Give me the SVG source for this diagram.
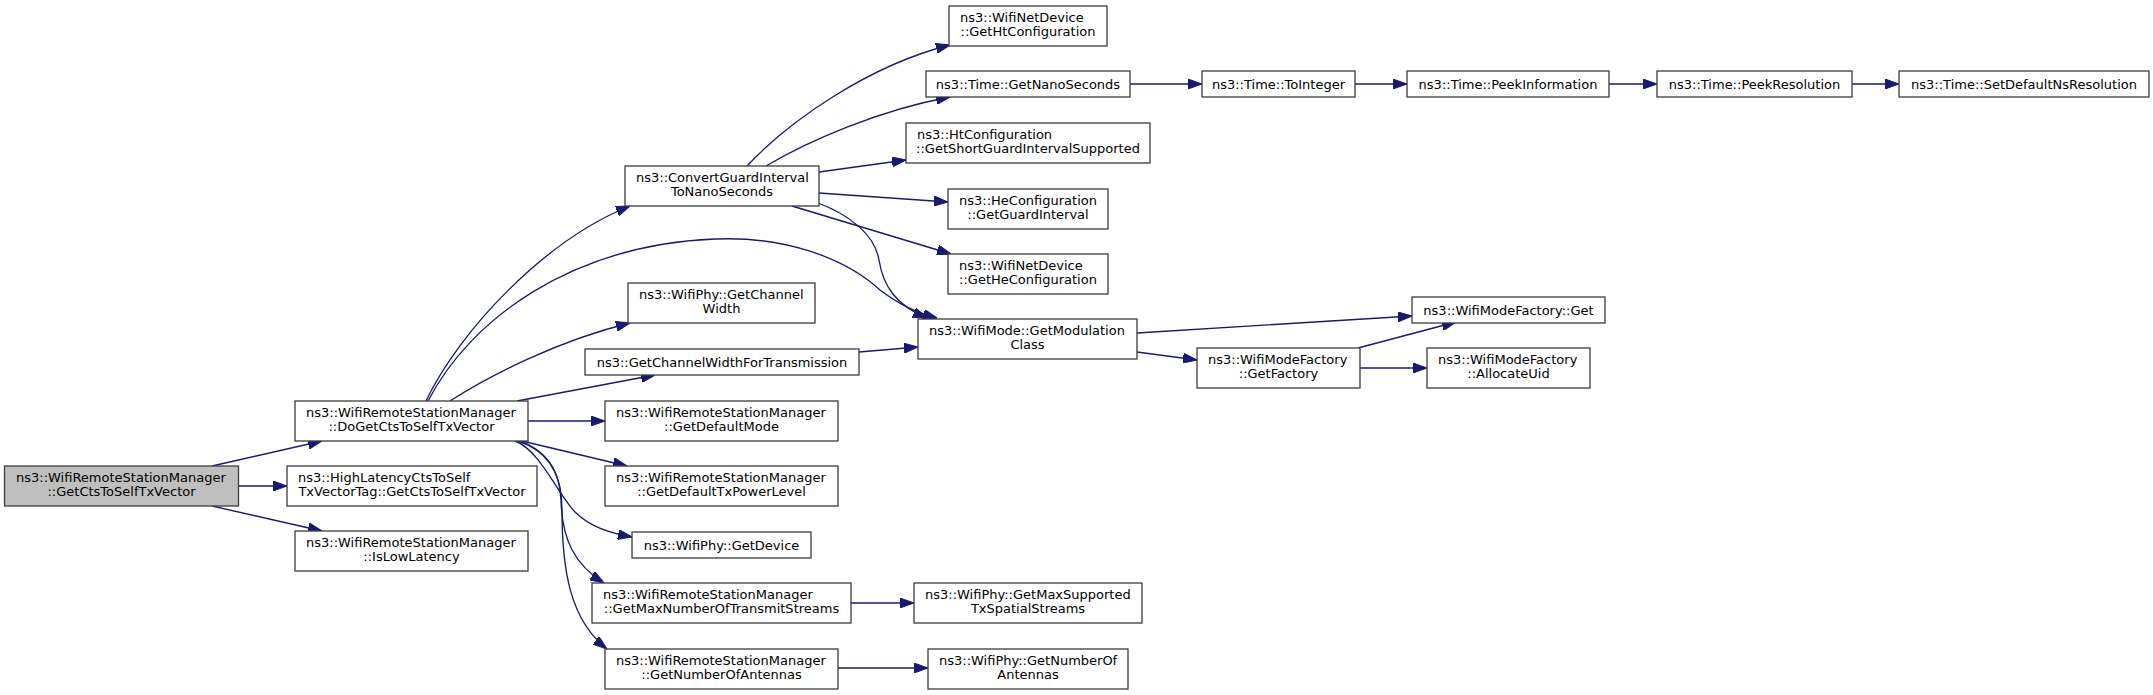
<svg xmlns="http://www.w3.org/2000/svg" width="2153" height="695" viewBox="0 0 2153 695">
<style>
.n rect{fill:#ffffff;stroke:#404040;stroke-width:1.33}
.n.root rect{fill:#bfbfbf}
.n text{font-family:"DejaVu Sans",sans-serif;font-size:13px;fill:#000}
.s{text-anchor:start}
.m{text-anchor:middle}
#edges path{fill:none;stroke:#191970;stroke-width:1.33;marker-end:url(#ah)}
</style>
<defs>
<marker id="ah" markerUnits="userSpaceOnUse" markerWidth="14" markerHeight="10" viewBox="0 0 14 10" refX="14" refY="5" orient="auto">
<path d="M0,0 L14,5 L0,10 z" fill="#191970" stroke="#191970" stroke-width="1"/>
</marker>
</defs>
<rect width="2153" height="695" fill="#ffffff"/>
<g id="edges">
<path d="M212,466 L322,441"/>
<path d="M239,486 L287,486"/>
<path d="M212,506 L322,531"/>
<path d="M426,401 C460,330 545,240 630,206"/>
<path d="M428,401 C470,320 570,245 715,239 C785,236 845,258 880,290 C900,305 915,312 937,318"/>
<path d="M450,401 C490,375 560,340 630,323"/>
<path d="M517,401 L655,375"/>
<path d="M528,421 L605,421"/>
<path d="M522,441 L627,466"/>
<path d="M515,441 C540,450 558,495 575,512 C590,527 610,533 632,537"/>
<path d="M518,441 C545,450 560,470 561,500 C562,540 575,565 604,583"/>
<path d="M520,441 C550,452 562,475 562,510 C562,570 570,620 607,649"/>
<path d="M747,166 C790,120 870,65 950,45"/>
<path d="M766,166 C810,140 880,110 950,97"/>
<path d="M819,172 L906,160"/>
<path d="M819,193 L948,202"/>
<path d="M792,206 L951,254"/>
<path d="M818,203 C850,215 875,235 879,260 C883,285 895,305 927,318"/>
<path d="M859,352 L918,347"/>
<path d="M1130,84 L1202,84"/>
<path d="M1355,84 L1407,84"/>
<path d="M1609,84 L1657,84"/>
<path d="M1852,84 L1899,84"/>
<path d="M1137,333 L1412,316"/>
<path d="M1137,352 L1197,360"/>
<path d="M1358,348 L1456,322"/>
<path d="M1360,368 L1427,368"/>
<path d="M851,603 L914,603"/>
<path d="M838,668 L928,668"/>
</g>
<g id="n_root" class="n root"><rect x="4.5" y="466" width="234" height="40"/><text class="s" x="16" y="482">ns3::WifiRemoteStationManager</text><text class="m" x="121.5" y="496">::GetCtsToSelfTxVector</text></g>
<g id="n_dogetcts" class="n"><rect x="295" y="401" width="233" height="40"/><text class="s" x="306" y="417">ns3::WifiRemoteStationManager</text><text class="m" x="411.5" y="431">::DoGetCtsToSelfTxVector</text></g>
<g id="n_highlatency" class="n"><rect x="287" y="466" width="250" height="40"/><text class="s" x="298" y="482">ns3::HighLatencyCtsToSelf</text><text class="m" x="412" y="496">TxVectorTag::GetCtsToSelfTxVector</text></g>
<g id="n_islowlatency" class="n"><rect x="295" y="531" width="233" height="40"/><text class="s" x="306" y="547">ns3::WifiRemoteStationManager</text><text class="m" x="411.5" y="561">::IsLowLatency</text></g>
<g id="n_convertgi" class="n"><rect x="625" y="166" width="194" height="40"/><text class="s" x="636" y="182">ns3::ConvertGuardInterval</text><text class="m" x="722" y="196">ToNanoSeconds</text></g>
<g id="n_getchannelwidth" class="n"><rect x="628" y="283" width="187" height="40"/><text class="s" x="639" y="299">ns3::WifiPhy::GetChannel</text><text class="m" x="721.5" y="313">Width</text></g>
<g id="n_cwfortx" class="n"><rect x="585" y="349" width="274" height="26"/><text class="m" x="722" y="366.5">ns3::GetChannelWidthForTransmission</text></g>
<g id="n_defaultmode" class="n"><rect x="605" y="401" width="233" height="40"/><text class="s" x="616" y="417">ns3::WifiRemoteStationManager</text><text class="m" x="721.5" y="431">::GetDefaultMode</text></g>
<g id="n_defaulttxpower" class="n"><rect x="605" y="466" width="233" height="40"/><text class="s" x="616" y="482">ns3::WifiRemoteStationManager</text><text class="m" x="721.5" y="496">::GetDefaultTxPowerLevel</text></g>
<g id="n_getdevice" class="n"><rect x="632" y="532" width="179" height="26"/><text class="m" x="721.5" y="549.5">ns3::WifiPhy::GetDevice</text></g>
<g id="n_maxnumtx" class="n"><rect x="592" y="583" width="259" height="40"/><text class="s" x="603" y="599">ns3::WifiRemoteStationManager</text><text class="m" x="721.5" y="613">::GetMaxNumberOfTransmitStreams</text></g>
<g id="n_numantennas" class="n"><rect x="605" y="649" width="233" height="40"/><text class="s" x="616" y="665">ns3::WifiRemoteStationManager</text><text class="m" x="721.5" y="679">::GetNumberOfAntennas</text></g>
<g id="n_htconfig" class="n"><rect x="949" y="6" width="158" height="40"/><text class="s" x="960" y="22">ns3::WifiNetDevice</text><text class="m" x="1028" y="36">::GetHtConfiguration</text></g>
<g id="n_nanoseconds" class="n"><rect x="926" y="71" width="204" height="26"/><text class="m" x="1028" y="88.5">ns3::Time::GetNanoSeconds</text></g>
<g id="n_shortgi" class="n"><rect x="906" y="123" width="244" height="40"/><text class="s" x="917" y="139">ns3::HtConfiguration</text><text class="m" x="1028" y="153">::GetShortGuardIntervalSupported</text></g>
<g id="n_guardinterval" class="n"><rect x="948" y="189" width="160" height="40"/><text class="s" x="959" y="205">ns3::HeConfiguration</text><text class="m" x="1028" y="219">::GetGuardInterval</text></g>
<g id="n_heconfig" class="n"><rect x="948" y="254" width="160" height="40"/><text class="s" x="959" y="270">ns3::WifiNetDevice</text><text class="m" x="1028" y="284">::GetHeConfiguration</text></g>
<g id="n_modclass" class="n"><rect x="918" y="319" width="219" height="40"/><text class="s" x="929" y="335">ns3::WifiMode::GetModulation</text><text class="m" x="1027.5" y="349">Class</text></g>
<g id="n_maxsupported" class="n"><rect x="914" y="583" width="228" height="40"/><text class="s" x="925" y="599">ns3::WifiPhy::GetMaxSupported</text><text class="m" x="1028" y="613">TxSpatialStreams</text></g>
<g id="n_phyantennas" class="n"><rect x="928" y="649" width="200" height="40"/><text class="s" x="939" y="665">ns3::WifiPhy::GetNumberOf</text><text class="m" x="1028" y="679">Antennas</text></g>
<g id="n_tointeger" class="n"><rect x="1202" y="71" width="153" height="26"/><text class="m" x="1278.5" y="88.5">ns3::Time::ToInteger</text></g>
<g id="n_peekinfo" class="n"><rect x="1407" y="71" width="202" height="26"/><text class="m" x="1508" y="88.5">ns3::Time::PeekInformation</text></g>
<g id="n_peekres" class="n"><rect x="1657" y="71" width="195" height="26"/><text class="m" x="1754.5" y="88.5">ns3::Time::PeekResolution</text></g>
<g id="n_setdefaultns" class="n"><rect x="1899" y="71" width="250" height="26"/><text class="m" x="2024" y="88.5">ns3::Time::SetDefaultNsResolution</text></g>
<g id="n_factoryget" class="n"><rect x="1412" y="297" width="193" height="26"/><text class="m" x="1508.5" y="314.5">ns3::WifiModeFactory::Get</text></g>
<g id="n_getfactory" class="n"><rect x="1197" y="348" width="163" height="40"/><text class="s" x="1208" y="364">ns3::WifiModeFactory</text><text class="m" x="1278.5" y="378">::GetFactory</text></g>
<g id="n_allocateuid" class="n"><rect x="1427" y="348" width="163" height="40"/><text class="s" x="1438" y="364">ns3::WifiModeFactory</text><text class="m" x="1508.5" y="378">::AllocateUid</text></g>
</svg>
